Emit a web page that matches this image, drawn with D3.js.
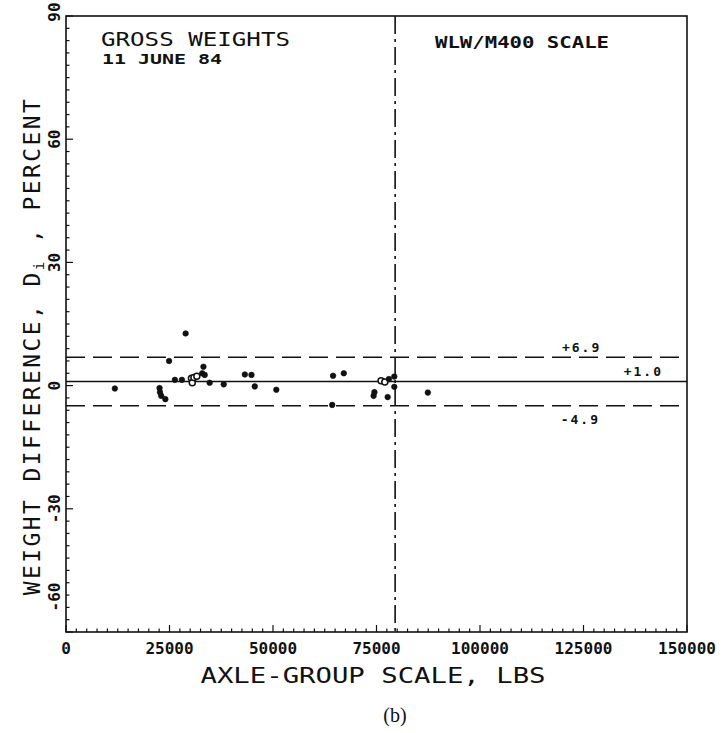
<!DOCTYPE html>
<html>
<head>
<meta charset="utf-8">
<script src="https://cdn.jsdelivr.net/npm/d3@7"></script>
<style>
  html, body { margin: 0; padding: 0; background: #fff; }
  svg { display: block; }
  text { fill: #111; }
</style>
</head>
<body>
<svg id="chart" width="725" height="733"></svg>
<script>
// ---------- data ----------
const scaleWeights = [11800, 22600, 22700, 23000, 24000, 24900, 26300, 28000, 28900, 30300, 30500, 30900, 31600, 32900, 33200, 33500, 34700, 38100, 43200, 44800, 45600, 50800, 64500, 67100, 64300, 74300, 74500, 76100, 77000, 78000, 77700, 79300, 79300, 87400];
const weightDiffs  = [-0.7, -0.6, -1.6, -2.5, -3.3, 6.0, 1.4, 1.4, 12.7, 1.8, 0.7, 2.0, 2.3, 3.0, 4.6, 2.6, 0.7, 0.3, 2.7, 2.6, -0.2, -1.0, 2.4, 3.0, -4.7, -2.5, -1.6, 1.2, 0.9, 1.6, -2.8, 2.2, -0.3, -1.7];
const openMarker   = [0, 0, 0, 0, 0, 0, 0, 0, 0, 1, 1, 1, 1, 0, 0, 0, 0, 0, 0, 0, 0, 0, 0, 0, 0, 0, 0, 1, 1, 0, 0, 0, 0, 0];

const refValues = [6.9, 1.0, -4.9];
const refLabels = ["+6.9", "+1.0", "-4.9"];
const refLabelX = [119800, 134700, 119500];
const refStyle  = ["dash", "solid", "dash"];

const scaleLimit = 79500;

const xTicks = [0, 25000, 50000, 75000, 100000, 125000, 150000];
const yTicks = [-60, -30, 0, 30, 60, 90];

const titleLines = ["GROSS WEIGHTS", "11 JUNE 84"];
const scaleNote = "WLW/M400 SCALE";
const xTitle = "AXLE-GROUP SCALE, LBS";
const caption = "(b)";

// ---------- layout ----------
const L = 66, R = 687, T = 16, B = 632;
const svg = d3.select("#chart");
const x = d3.scaleLinear().domain([0, 150000]).range([L, R]);
const y = d3.scaleLinear().domain([-60, 90]).range([B, T]);
const ink = "#111";
const mono = "'DejaVu Sans Mono', 'Liberation Mono', monospace";

// minor ticks (inward)
const xMinor = d3.range(0, 150001, 2500);
svg.append("g").selectAll("line").data(xMinor).join("line")
  .attr("x1", d => x(d)).attr("x2", d => x(d))
  .attr("y1", B).attr("y2", d => B - (d % 25000 === 0 ? 7 : 3.5))
  .attr("stroke", ink).attr("stroke-width", 1.2);
const yMinor = d3.range(-60, 90.001, 3);
svg.append("g").selectAll("line").data(yMinor).join("line")
  .attr("y1", d => y(d)).attr("y2", d => y(d))
  .attr("x1", L).attr("x2", d => L + (d % 30 === 0 ? 7 : 3.5))
  .attr("stroke", ink).attr("stroke-width", 1.2);

// frame
svg.append("rect").attr("x", L).attr("y", T).attr("width", R - L).attr("height", B - T)
  .attr("fill", "none").attr("stroke", ink).attr("stroke-width", 1.6);

// x tick labels
svg.append("g").selectAll("text").data(xTicks).join("text")
  .attr("x", d => x(d)).attr("y", 654)
  .attr("text-anchor", "middle")
  .attr("font-family", mono).attr("font-size", 16).attr("font-weight", "bold")
  .text(d => d);

// y tick labels (rotated)
svg.append("g").selectAll("text").data(yTicks).join("text")
  .attr("transform", d => {
    let cy = y(d);
    if (d === 90) cy -= 4;
    if (d === -60) cy -= 35;
    return `translate(60,${cy}) rotate(-90)`;
  })
  .attr("text-anchor", "middle")
  .attr("font-family", mono).attr("font-size", 16).attr("font-weight", "bold")
  .text(d => d);

// reference lines
refValues.forEach((v, i) => {
  svg.append("line")
    .attr("x1", L).attr("x2", R).attr("y1", y(v)).attr("y2", y(v))
    .attr("stroke", ink).attr("stroke-width", 1.4)
    .attr("stroke-dasharray", refStyle[i] === "dash" ? "19,8" : null);
  const below = v < 0;
  svg.append("text")
    .attr("x", x(refLabelX[i]))
    .attr("y", below ? y(v) + 18 : y(v) - 5)
    .attr("font-family", mono).attr("font-size", 13).attr("font-weight", "bold")
    .attr("letter-spacing", 2)
    .text(refLabels[i]);
});

// vertical scale-limit line (dash-dot)
svg.append("line")
  .attr("x1", x(scaleLimit)).attr("x2", x(scaleLimit)).attr("y1", T).attr("y2", B)
  .attr("stroke", ink).attr("stroke-width", 1.6)
  .attr("stroke-dasharray", "18,5,3,5");

// points
const pts = scaleWeights.map((d, i) => ({ x: d, y: weightDiffs[i], open: openMarker[i] }));
svg.append("g").selectAll("circle").data(pts).join("circle")
  .attr("cx", d => x(d.x)).attr("cy", d => y(d.y))
  .attr("r", d => d.open ? 3 : 2.8)
  .attr("fill", d => d.open ? "#fff" : ink)
  .attr("stroke", ink).attr("stroke-width", d => d.open ? 1.5 : 0.6);

// annotations
svg.append("text").attr("x", 101).attr("y", 46)
  .attr("font-family", mono).attr("font-size", 19)
  .attr("textLength", 189).attr("lengthAdjust", "spacingAndGlyphs")
  .text(titleLines[0]);
svg.append("text").attr("x", 102).attr("y", 64)
  .attr("font-family", mono).attr("font-size", 14).attr("font-weight", "bold")
  .attr("textLength", 120).attr("lengthAdjust", "spacingAndGlyphs")
  .text(titleLines[1]);
svg.append("text").attr("x", 435).attr("y", 48)
  .attr("font-family", mono).attr("font-size", 16).attr("font-weight", "bold")
  .attr("textLength", 174).attr("lengthAdjust", "spacingAndGlyphs")
  .text(scaleNote);

// axis titles
svg.append("text").attr("x", 373).attr("y", 683)
  .attr("text-anchor", "middle")
  .attr("font-family", mono).attr("font-size", 21)
  .attr("textLength", 345).attr("lengthAdjust", "spacingAndGlyphs")
  .text(xTitle);

const yt = svg.append("text")
  .attr("transform", "translate(40,346) rotate(-90)")
  .attr("text-anchor", "middle")
  .attr("font-family", mono).attr("font-size", 23)
  .attr("letter-spacing", 2.4);
yt.append("tspan").text("WEIGHT DIFFERENCE, D");
yt.append("tspan").attr("font-size", 14).attr("dy", 4).text("i");
yt.append("tspan").attr("dy", -4).text(" , PERCENT");

svg.append("text").attr("x", 395).attr("y", 722)
  .attr("text-anchor", "middle")
  .attr("font-family", "'Liberation Serif', 'DejaVu Serif', serif").attr("font-size", 20)
  .text(caption);
</script>
</body>
</html>
